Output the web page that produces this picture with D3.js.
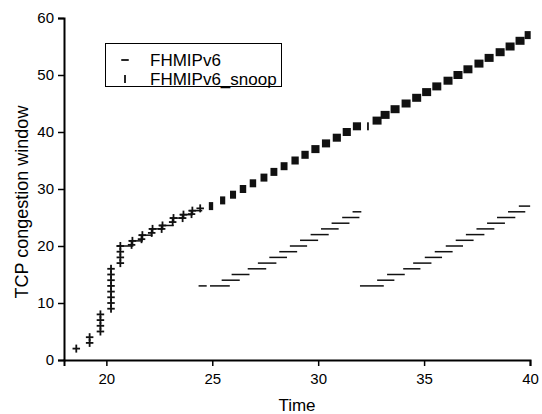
<!DOCTYPE html>
<html>
<head>
<meta charset="utf-8">
<script src="https://d3js.org/d3.v7.min.js"></script>
<style>
body { margin: 0; background: #fff; font-family: 'Liberation Sans', Arial, sans-serif; }
</style>
</head>
<body>
<div id="chart"></div>
<script>
var xTicks = [20, 25, 30, 35, 40];
var yTicks = [0, 10, 20, 30, 40, 50, 60];
var seriesNames = ["FHMIPv6", "FHMIPv6_snoop"];

// slow start: both series sit on the same points -> "+"
var slowStartPts = [
  [18.58, 2], [19.21, 3], [19.21, 4],
  [19.72, 5], [19.72, 6], [19.72, 7], [19.72, 8],
  [20.22, 9], [20.22, 10], [20.22, 11], [20.22, 12], [20.22, 13], [20.22, 14], [20.22, 15], [20.22, 16],
  [20.66, 17], [20.66, 18], [20.66, 19], [20.66, 20],
  [21.19, 20.2], [21.23, 20.9], [21.66, 21.2], [21.70, 21.9], [22.14, 22.3], [22.18, 23.0],
  [22.61, 23.0], [22.65, 23.6], [23.13, 24.2], [23.17, 24.9], [23.60, 24.9], [23.64, 25.5],
  [24.02, 25.6], [24.06, 26.2], [24.43, 26.6]
];

// runs of samples at one cwnd value: [t start, t end, cwnd]
var fhmipRuns = [
  [20.66, 21.10, 20], [21.23, 21.55, 20.9], [21.70, 22.00, 21.9], [22.18, 22.50, 23.0],
  [22.65, 23.00, 23.6], [23.17, 23.50, 24.9], [23.64, 23.90, 25.5], [24.06, 24.35, 26.2],
  [24.53, 24.56, 13], [25.07, 25.65, 13], [25.62, 26.12, 14], [26.09, 26.58, 15],
  [26.85, 27.37, 16], [27.33, 27.85, 17], [27.87, 28.35, 18], [28.34, 28.83, 19],
  [28.84, 29.30, 20], [29.32, 29.82, 21], [29.82, 30.32, 22], [30.31, 30.79, 23],
  [30.81, 31.30, 24], [31.31, 31.77, 25], [31.80, 31.86, 26],
  [32.15, 32.92, 13], [32.96, 33.42, 14], [33.43, 33.91, 15], [34.19, 34.65, 16],
  [34.66, 35.17, 17], [35.21, 35.67, 18], [35.68, 36.17, 19], [36.20, 36.66, 20],
  [36.67, 37.16, 21], [37.15, 37.67, 22], [37.65, 38.14, 23], [38.15, 38.64, 24],
  [38.62, 39.13, 25], [39.14, 39.60, 26], [39.65, 39.83, 27]
];

var snoopRuns = [
  [24.88, 25.00, 27], [25.41, 25.57, 28], [25.88, 26.08, 29], [26.34, 26.56, 30],
  [26.81, 27.03, 31], [27.32, 27.56, 32], [27.79, 28.03, 33], [28.27, 28.51, 34],
  [28.78, 29.04, 35], [29.25, 29.51, 36], [29.72, 30.02, 37], [30.22, 30.52, 38],
  [30.73, 31.03, 39], [31.20, 31.50, 40], [31.68, 31.98, 41], [32.35, 32.35, 41],
  [32.61, 32.95, 42], [32.99, 33.33, 43], [33.46, 33.80, 44], [33.98, 34.32, 45],
  [34.48, 34.82, 46], [34.95, 35.29, 47], [35.43, 35.77, 48], [35.96, 36.30, 49],
  [36.43, 36.77, 50], [36.90, 37.24, 51], [37.42, 37.76, 52], [37.90, 38.24, 53],
  [38.42, 38.76, 54], [38.89, 39.23, 55], [39.36, 39.70, 56], [39.79, 39.99, 57]
];

var svg = d3.select("#chart").append("svg")
    .attr("width", 542)
    .attr("height", 414);

var x = d3.scaleLinear().domain([18, 40]).range([64, 530]);
var y = d3.scaleLinear().domain([0, 60]).range([360, 18]);

var ink = "#111";
var dashW = 7.5, barH = 8, thick = 1.8;

// "-" markers (FHMIPv6)
function drawDashes(runs, w) {
  svg.append("g").selectAll("rect")
    .data(runs)
    .enter().append("rect")
      .attr("x", function(d) { return x(d[0]) - dashW / 2; })
      .attr("width", function(d) { return x(d[1]) - x(d[0]) + dashW; })
      .attr("y", function(d) { return y(d[2]) - w / 2; })
      .attr("height", w)
      .attr("fill", ink);
}

// "|" markers (snoop)
function drawBars(runs) {
  svg.append("g").selectAll("rect")
    .data(runs)
    .enter().append("rect")
      .attr("x", function(d) { return x(d[0]) - thick / 2; })
      .attr("width", function(d) { return x(d[1]) - x(d[0]) + thick; })
      .attr("y", function(d) { return y(d[2]) - barH / 2; })
      .attr("height", barH)
      .attr("fill", ink);
}

var ssRuns = slowStartPts.map(function(p) { return [p[0], p[0], p[1]]; });
drawDashes(ssRuns, thick);
drawBars(ssRuns);
drawDashes(fhmipRuns, 1.5);
drawBars(snoopRuns);

// axes
var xAxis = svg.append("g")
    .attr("transform", "translate(0,360)")
    .call(d3.axisBottom(x).tickValues(xTicks).tickSizeOuter(0).tickSize(6).tickPadding(7));
var yAxis = svg.append("g")
    .attr("transform", "translate(64,0)")
    .call(d3.axisLeft(y).tickValues(yTicks).tickSizeOuter(0).tickSize(6).tickPadding(4));

[xAxis, yAxis].forEach(function(a) {
  a.select(".domain").attr("stroke", "#000").attr("stroke-width", 2);
  a.selectAll(".tick line").attr("stroke", "#000").attr("stroke-width", 1.5);
  a.selectAll(".tick text")
    .attr("fill", "#000")
    .style("font-family", "'Liberation Sans', Arial, sans-serif")
    .style("font-size", "15px");
});

// axis titles
svg.append("text")
    .attr("x", 297).attr("y", 411)
    .attr("text-anchor", "middle")
    .style("font-size", "17px")
    .text("Time");

svg.append("text")
    .attr("text-anchor", "middle")
    .attr("transform", "translate(28,202)rotate(-90)")
    .style("font-size", "18px")
    .text("TCP congestion window");

// legend
var lg = svg.append("g");
lg.append("rect")
    .attr("x", 105.5).attr("y", 43.5)
    .attr("width", 176).attr("height", 43)
    .attr("fill", "#fff").attr("stroke", "#000").attr("stroke-width", 1);
lg.append("rect")
    .attr("x", 125 - dashW / 2).attr("y", 60 - thick / 2)
    .attr("width", dashW).attr("height", thick).attr("fill", ink);
lg.append("rect")
    .attr("x", 125 - thick / 2).attr("y", 79 - barH / 2)
    .attr("width", thick).attr("height", barH).attr("fill", ink);
lg.selectAll("text.lab")
    .data(seriesNames)
    .enter().append("text")
      .attr("class", "lab")
      .attr("x", 150)
      .attr("y", function(d, i) { return 66 + i * 19; })
      .style("font-size", "17px")
      .text(function(d) { return d; });
</script>
</body>
</html>
